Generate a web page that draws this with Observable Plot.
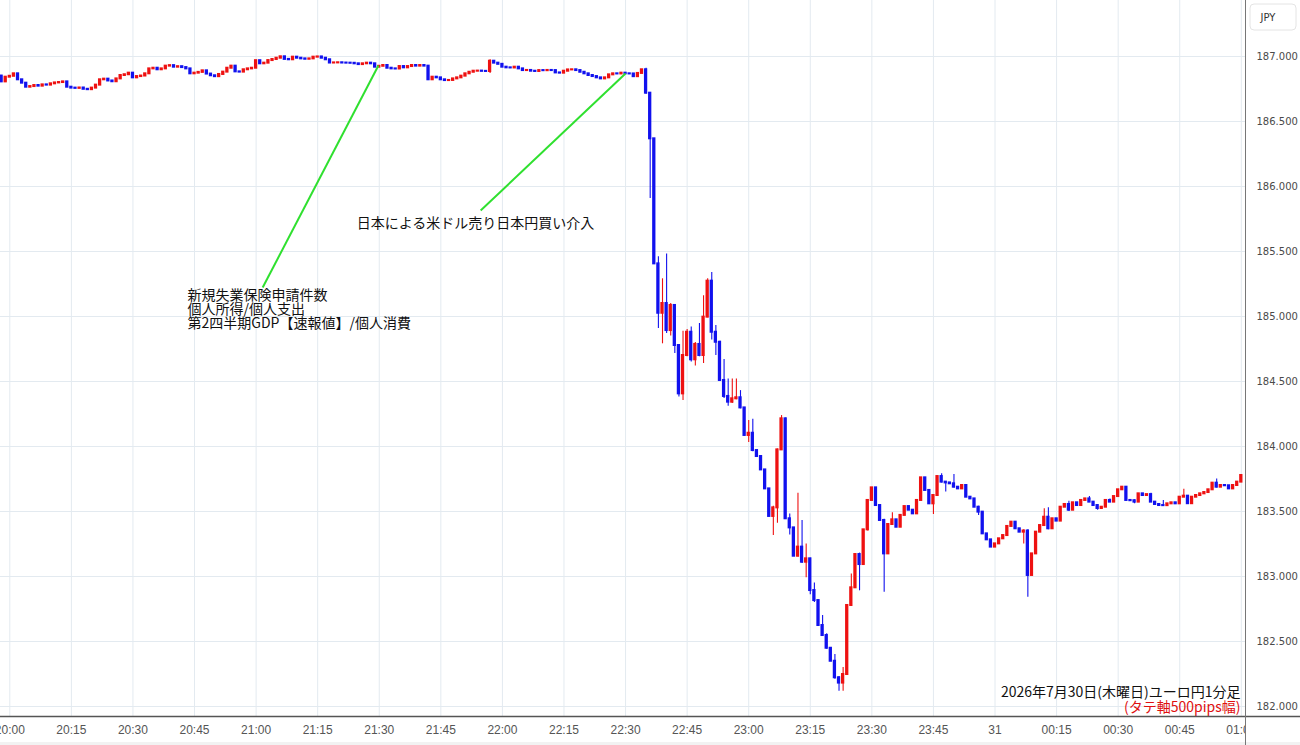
<!DOCTYPE html>
<html><head><meta charset="utf-8">
<script src="https://cdn.jsdelivr.net/npm/d3@7"></script>
<script src="https://cdn.jsdelivr.net/npm/@observablehq/plot@0.6"></script>
<style>
html,body{margin:0;padding:0;background:#fff;}
#chart{position:relative;width:1300px;height:745px;overflow:hidden;}
</style></head><body><div id="chart"></div>
<script>
// ---- data: EUR/JPY 1-minute candles, minute offsets from 20:00 ----
const startMinute = -2;
const firstOpen = 186.85;
const closes = [
  186.805, 186.841, 186.848, 186.867, 186.821, 186.795, 186.764, 186.769, 186.777, 186.772,
  186.782, 186.78, 186.79, 186.797, 186.80, 186.805, 186.764, 186.757, 186.755, 186.758,
  186.748, 186.745, 186.757, 186.78, 186.821, 186.826, 186.812, 186.806, 186.828, 186.854,
  186.86, 186.872, 186.836, 186.846, 186.85, 186.867, 186.905, 186.91, 186.898, 186.905,
  186.926, 186.93, 186.918, 186.922, 186.915, 186.905, 186.867, 186.872, 186.878, 186.89,
  186.865, 186.852, 186.845, 186.862, 186.88, 186.91, 186.926, 186.882, 186.88, 186.898,
  186.905, 186.91, 186.968, 186.944, 186.949, 186.969, 186.977, 186.987, 186.998, 186.978,
  186.975, 186.995, 186.987, 186.982, 186.979, 186.982, 186.995, 186.997, 186.987, 186.975,
  186.95, 186.951, 186.952, 186.95, 186.949, 186.948, 186.944, 186.938, 186.944, 186.949,
  186.944, 186.918, 186.925, 186.931, 186.91, 186.905, 186.904, 186.923, 186.913, 186.923,
  186.931, 186.926, 186.931, 186.926, 186.821, 186.841, 186.836, 186.821, 186.815, 186.816,
  186.828, 186.836, 186.849, 186.867, 186.879, 186.887, 186.888, 186.886, 186.885, 186.964,
  186.949, 186.94, 186.918, 186.913, 186.912, 186.918, 186.905, 186.892, 186.893, 186.887,
  186.885, 186.892, 186.891, 186.893, 186.892, 186.874, 186.872, 186.887, 186.897, 186.898,
  186.892, 186.879, 186.867, 186.854, 186.846, 186.836, 186.828, 186.836, 186.859, 186.867,
  186.866, 186.872, 186.867, 186.866, 186.845, 186.87, 186.898, 186.718, 186.367, 185.405,
  185.025, 185.10, 184.892, 185.085, 184.777, 184.405, 184.70, 184.879, 184.667, 184.785,
  184.70, 184.995, 185.272, 184.879, 184.802, 184.508, 184.385, 184.341, 184.367, 184.375,
  184.297, 184.085, 184.102, 183.969, 183.923, 183.82, 183.674, 183.462, 183.528, 183.974,
  184.213, 183.444, 183.374, 183.156, 183.226, 183.11, 183.136, 182.892, 182.815, 182.623,
  182.546, 182.448, 182.348, 182.221, 182.18, 182.246, 182.777, 182.913, 183.169, 183.092,
  183.359, 183.585, 183.682, 183.546, 183.431, 183.174, 183.40, 183.436, 183.379, 183.47,
  183.538, 183.51, 183.482, 183.585, 183.759, 183.662, 183.559, 183.623, 183.769, 183.726,
  183.72, 183.713, 183.687, 183.674, 183.70, 183.61, 183.597, 183.533, 183.495, 183.328,
  183.282, 183.226, 183.251, 183.29, 183.315, 183.385, 183.418, 183.367, 183.341, 183.35,
  183.008, 183.174, 183.341, 183.392, 183.456, 183.367, 183.444, 183.426, 183.533, 183.554,
  183.51, 183.567, 183.546, 183.585, 183.597, 183.572, 183.546, 183.523, 183.533, 183.585,
  183.572, 183.615, 183.667, 183.687, 183.585, 183.583, 183.572, 183.636, 183.623, 183.63,
  183.572, 183.554, 183.546, 183.545, 183.559, 183.567, 183.559, 183.61, 183.618, 183.56,
  183.61, 183.623, 183.636, 183.646, 183.667, 183.718, 183.687, 183.70, 183.698, 183.674,
  183.70, 183.726, 183.777
];
// [minute, high, low] for candles with visible wicks
const wicks = [
  [117,186.975,186.87],[155,186.91,186.71],[156,186.72,185.908],[157,186.37,185.40],
  [158,185.46,184.908],[159,185.29,184.79],[160,185.48,184.87],[161,185.10,184.85],
  [162,185.085,184.715],[163,184.78,184.38],[164,184.887,184.354],[165,184.90,184.69],
  [166,184.92,184.65],[167,184.80,184.62],[168,184.946,184.69],[169,185.16,184.638],
  [170,185.29,184.99],[171,185.338,184.82],[172,184.93,184.70],[173,184.81,184.50],
  [174,184.67,184.37],[175,184.52,184.31],[176,184.52,184.33],[177,184.52,184.36],
  [178,184.43,184.29],[179,184.30,184.08],[180,184.20,184.03],[181,184.21,183.96],
  [186,183.54,183.315],[187,183.98,183.41],[188,184.238,183.97],[189,184.22,183.44],
  [190,183.48,183.32],[192,183.64,183.15],[193,183.43,183.10],[194,183.25,182.99],
  [195,183.14,182.86],[196,182.95,182.80],[198,182.70,182.54],[199,182.56,182.44],
  [201,182.40,182.21],[202,182.23,182.118],[203,182.30,182.118],[205,183.02,182.77],
  [207,183.18,182.89],[209,183.59,183.35],[213,183.44,182.879],[215,183.49,183.40],
  [225,183.63,183.477],[227,183.79,183.72],[228,183.73,183.65],[230,183.785,183.68],
  [236,183.54,183.469],[247,183.36,183.25],[248,183.36,182.841],[252,183.521,183.39],
  [253,183.528,183.36],[258,183.579,183.50],[263,183.615,183.57],[265,183.55,183.51],
  [268,183.597,183.57],[274,183.59,183.559],[278,183.641,183.57],[281,183.585,183.54],
  [286,183.672,183.61],[294,183.75,183.68]
];
const yTicks = [182, 182.5, 183, 183.5, 184, 184.5, 185, 185.5, 186, 186.5, 187];
const xTickLabels = ["20:00","20:15","20:30","20:45","21:00","21:15","21:30","21:45","22:00","22:15",
  "22:30","22:45","23:00","23:15","23:30","23:45","31","00:15","00:30","00:45","01:00"];
const xTickStepMinutes = 15;
// annotation leader lines: [minute, price] -> [minute, price]
const leaderLines = [
  {m1: 89.8, p1: 186.931, m2: 61.6, p2: 185.223},
  {m1: 150.0, p1: 186.869, m2: 114.7, p2: 185.815}
];
const notes = [
  {m: 84.5, p: 185.715, text: "日本による米ドル売り日本円買い介入", anchor: "middle"},
  {m: 43.3, p: 185.205, text: "新規失業保険申請件数\n個人所得/個人支出\n第2四半期GDP【速報値】/個人消費", anchor: "top"}
];
const captionTitle = "2026年7月30日(木曜日)ユーロ円1分足";
const captionNote = "(タテ軸500pips幅)";
const currencyLabel = "JPY";

// ---- build ----
const RED = "#ee1111", BLUE = "#1111ee";
const base = Date.UTC(2026, 6, 30, 20, 0);
const T = m => new Date(base + m * 60000);
const wickMap = new Map(wicks.map(w => [w[0], w]));
const candles = closes.map((c, i) => {
  const m = startMinute + i;
  const o = i === 0 ? firstOpen : closes[i - 1];
  const w = wickMap.get(m);
  return {
    t: T(m), t1: T(m - 0.4), t2: T(m + 0.4), o, c,
    hi: w ? Math.max(w[1], o, c) : Math.max(o, c),
    lo: w ? Math.min(w[2], o, c) : Math.min(o, c),
    up: c >= o
  };
});
const xTicks = xTickLabels.map((_, i) => T(i * xTickStepMinutes));
const labelByTime = new Map(xTicks.map((d, i) => [+d, xTickLabels[i]]));
const links = leaderLines.map(d => ({x1: T(d.m1), y1: d.p1, x2: T(d.m2), y2: d.p2}));
const noteData = notes.map(d => ({x: T(d.m), y: d.p, text: d.text, anchor: d.anchor}));

const W = 1300, H = 745, MR = 55, MB = 29;
const GRID = "#e3eaf0";
const cjk = "'Noto Sans CJK JP', 'Noto Sans', sans-serif";

const plot = Plot.plot({
  width: W, height: H,
  marginTop: 0, marginRight: MR, marginBottom: MB, marginLeft: 0,
  x: {type: "utc", domain: [T(-2.266), T(301.02)]},
  y: {domain: [181.923, 187.431]},
  style: {fontFamily: "'DejaVu Sans', sans-serif", background: "#fff"},
  marks: [
    Plot.gridY(yTicks, {stroke: GRID, strokeOpacity: 1}),
    Plot.gridX(xTicks, {stroke: GRID, strokeOpacity: 1}),
    Plot.ruleX(candles, {x: "t", y1: "lo", y2: "hi", stroke: d => d.up ? RED : BLUE, strokeWidth: 1.1}),
    Plot.rect(candles, {x1: "t1", x2: "t2", y1: "o", y2: "c", fill: d => d.up ? RED : BLUE, insetTop: -1, insetBottom: -1}),
    Plot.link(links, {x1: "x1", y1: "y1", x2: "x2", y2: "y2", stroke: "#2fe02f", strokeWidth: 2}),
    Plot.text(noteData.filter(d => d.anchor === "middle"), {x: "x", y: "y", text: "text", textAnchor: "start", lineAnchor: "middle", fontSize: 14, fontFamily: cjk, fill: "#111", lineHeight: 1}),
    Plot.text(noteData.filter(d => d.anchor === "top"), {x: "x", y: "y", text: "text", textAnchor: "start", lineAnchor: "top", fontSize: 14, fontFamily: cjk, fill: "#111", lineHeight: 1}),
    Plot.axisY(yTicks, {anchor: "right", tickSize: 0, tickPadding: 11, tickFormat: d3.format(".3f"), fontSize: 10, fill: "#4a4a4a", label: null}),
    Plot.axisX(xTicks, {anchor: "bottom", tickSize: 0, tickPadding: 9, tickFormat: d => labelByTime.get(+d), fontSize: 12, fill: "#555", fontFamily: "'Liberation Sans', Arial, sans-serif", label: null}),
    Plot.text([captionTitle], {frameAnchor: "bottom-right", dx: -5, dy: -24, text: d => d, textAnchor: "end", lineAnchor: "middle", fontSize: 14, fontFamily: cjk, fill: "#111"}),
    Plot.text([captionNote], {frameAnchor: "bottom-right", dx: -5, dy: -9, text: d => d, textAnchor: "end", lineAnchor: "middle", fontSize: 14, fontFamily: cjk, fill: "#e01010"})
  ]
});
document.getElementById("chart").appendChild(plot);

// chart chrome: axis borders, right panel cover, currency badge
const svg = d3.select(plot);
const xr = W - MR, yb = H - MB;
svg.append("rect").attr("x", xr + 0.5).attr("y", yb + 1).attr("width", MR).attr("height", MB).attr("fill", "#fff");
svg.append("rect").attr("x", 0).attr("y", H - 3).attr("width", W).attr("height", 3).attr("fill", "#f2f2f2");
svg.append("line").attr("x1", 0).attr("x2", W).attr("y1", yb + 0.5).attr("y2", yb + 0.5).attr("stroke", "#555").attr("stroke-width", 1.5);
svg.append("line").attr("x1", xr + 0.5).attr("x2", xr + 0.5).attr("y1", 0).attr("y2", H).attr("stroke", "#777").attr("stroke-width", 1);
const badge = svg.append("g");
badge.append("rect").attr("x", 1250).attr("y", 4).attr("width", 46).attr("height", 26).attr("rx", 4)
  .attr("fill", "#fff").attr("stroke", "#e4e4e4");
badge.append("text").attr("x", 1268).attr("y", 17).attr("dy", "0.35em").attr("text-anchor", "middle")
  .attr("font-family", "'DejaVu Sans', sans-serif").attr("font-size", 10).attr("fill", "#333").text(currencyLabel);
</script></body></html>
